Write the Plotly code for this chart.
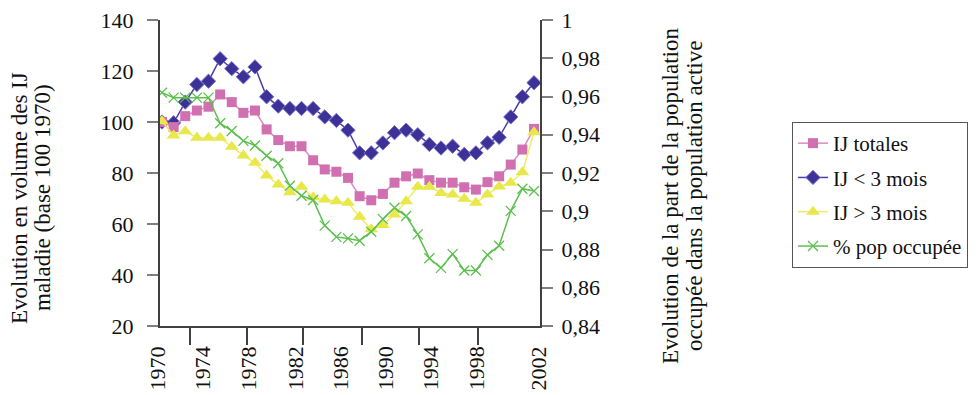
import plotly.graph_objects as go

# ---------------- data ----------------
years = list(range(1970, 2003))

ij_totales = [100, 98, 102.3, 104.5, 106, 110.8, 107.8, 103.6, 104.5, 97.1,
              92.9, 90.5, 90.5, 85.0, 81.4, 80.5, 78.1, 70.9, 69.3, 71.8,
              76.2, 78.7, 79.8, 77.2, 76.2, 76.2, 74.4, 73.5, 76.4, 78.7,
              83.3, 89.2, 97.3]

ij_moins_3 = [100, 99.7, 107.8, 114.7, 116, 124.8, 120.9, 117.7, 121.6, 109.9,
              106.2, 105.3, 105.3, 105.3, 102, 100.6, 96.8, 87.9, 87.9, 91.8,
              95.8, 96.8, 95.0, 91.2, 89.8, 90.5, 87.3, 87.9, 91.8, 94.0,
              102, 109.9, 115.4]

ij_plus_3 = [100.3, 94.7, 96.4, 93.8, 93.8, 93.8, 90.3, 86.9, 84.0, 79.0,
             75.5, 72.5, 74.6, 70.5, 69.6, 68.9, 68.3, 62.8, 57.9, 59.6,
             63.7, 68.9, 74.6, 74.6, 72.2, 71.6, 69.9, 68.3, 71.6, 74.7,
             76.2, 80.3, 96.0]

pop_occupee = [0.9620, 0.9594, 0.9594, 0.9594, 0.9594, 0.9460, 0.9420, 0.9368,
               0.9344, 0.9290, 0.9251, 0.9133, 0.9081, 0.9059, 0.8925, 0.8866,
               0.8858, 0.8846, 0.8893, 0.8959, 0.9018, 0.8975, 0.8879, 0.8754,
               0.8704, 0.8776, 0.8690, 0.8690, 0.8772, 0.8820, 0.9002, 0.9118,
               0.9106]

series_names = ["IJ totales", "IJ < 3 mois", "IJ > 3 mois", "% pop occupée"]

x_label_text = ["1970", "1974", "1978", "1982", "1986", "1990", "1994", "1998", "2002"]
x_label_pos = [1969.57, 1973.50, 1977.48, 1981.51, 1985.38, 1989.25, 1993.12, 1997.07, 2002.43]
x_tick_pos = [1972.41, 1977.34, 1982.15, 1987.18, 1992.13, 1997.16]

y_left_ticks = [20, 40, 60, 80, 100, 120, 140]
y_right_ticks = [0.84, 0.86, 0.88, 0.90, 0.92, 0.94, 0.96, 0.98, 1.0]
y_right_text = ["0,84", "0,86", "0,88", "0,9", "0,92", "0,94", "0,96", "0,98", "1"]

left_title_lines = ["Evolution en volume des IJ", "maladie (base 100 1970)"]
right_title_lines = ["Evolution de la part de la population", "occupée dans la population active"]

# ---------------- styling ----------------
FONT = "serif"
PINK = "#D070B0"
PINK_LINE = "#D88CC0"
NAVY = "#3B3196"
NAVY_LINE = "#4A3FA8"
YELLOW = "#E8E84A"
YELLOW_LINE = "#EEEE66"
GREEN = "#5CBF4E"
AXIS = "#404040"
TEXT = "#111111"

# plot area spans pixels 160..540 (x) and 20..326 (y)
PL, PR, PT, PB = 160.0, 540.0, 20.0, 326.0
PX_PER_YEAR = 11.625
FIRST_PX = 162.0


def px_to_year(p):
    return 1970 + (p - FIRST_PX) / PX_PER_YEAR


def year_to_px(yr):
    return FIRST_PX + (yr - 1970) * PX_PER_YEAR


def px_to_paper_x(p):
    return (p - PL) / (PR - PL)


def py_to_paper_y(p):
    return (PB - p) / (PB - PT)


def vtext(text, px, py, size):
    return dict(text=text, xref="paper", yref="paper", x=px_to_paper_x(px),
                y=py_to_paper_y(py), xanchor="center", yanchor="middle", textangle=-90,
                showarrow=False, font=dict(family=FONT, size=size, color=TEXT))


fig = go.Figure()

fig.add_trace(go.Scatter(
    x=years, y=ij_moins_3, name=series_names[1], mode="lines+markers",
    line=dict(color=NAVY_LINE, width=1.5),
    marker=dict(symbol="diamond", size=11, color=NAVY, line=dict(color="#7A70C8", width=1)),
    legendrank=2, legendgroup="b"))
fig.add_trace(go.Scatter(
    x=years, y=ij_totales, name=series_names[0], mode="lines+markers",
    line=dict(color=PINK_LINE, width=1.5),
    marker=dict(symbol="square", size=10, color=PINK),
    legendrank=1, legendgroup="a"))
fig.add_trace(go.Scatter(
    x=years, y=ij_plus_3, name=series_names[2], mode="lines+markers",
    line=dict(color=YELLOW_LINE, width=1.5),
    marker=dict(symbol="triangle-up", size=12, color=YELLOW),
    legendrank=3, legendgroup="c"))
fig.add_trace(go.Scatter(
    x=years, y=pop_occupee, name=series_names[3], mode="lines+markers", yaxis="y2",
    line=dict(color=GREEN, width=1.5),
    marker=dict(symbol="x-thin", size=10, color=GREEN, line=dict(color=GREEN, width=1.3)),
    legendrank=4, legendgroup="d"))

# x tick labels as rotated text below the axis
annotations = [vtext(t, year_to_px(p), 368.5, 22) for t, p in zip(x_label_text, x_label_pos)]
# axis titles, one annotation per line (tight line spacing as in the reference)
annotations += [
    vtext(left_title_lines[0], 20, 198, 23),
    vtext(left_title_lines[1], 43, 198, 23),
    vtext(right_title_lines[0], 670, 196, 23),
    vtext(right_title_lines[1], 694, 196, 23),
]

fig.update_layout(
    width=980, height=395,
    margin=dict(l=int(PL), r=int(980 - PR), t=int(PT), b=int(395 - PB), autoexpand=False),
    paper_bgcolor="white", plot_bgcolor="white",
    font=dict(family=FONT, size=22, color=TEXT),
    showlegend=True,
    legend=dict(
        x=px_to_paper_x(792), y=py_to_paper_y(122), xanchor="left", yanchor="top",
        bordercolor="#555555", borderwidth=1, bgcolor="white",
        font=dict(family=FONT, size=21, color=TEXT),
        tracegroupgap=4, traceorder="grouped",
    ),
    xaxis=dict(
        range=[px_to_year(PL), px_to_year(PR)],
        tickmode="array", tickvals=x_tick_pos, showticklabels=False,
        ticks="outside", ticklen=17, tickwidth=1.5, tickcolor=AXIS,
        showline=True, linecolor=AXIS, linewidth=2, showgrid=False, zeroline=False,
    ),
    yaxis=dict(
        range=[20, 140], tickmode="array", tickvals=y_left_ticks,
        ticks="outside", ticklen=11, tickcolor="#808080", tickwidth=1.5,
        ticklabelstandoff=9,
        showline=True, linecolor=AXIS, linewidth=2, showgrid=False, zeroline=False,
        tickfont=dict(family=FONT, size=22, color=TEXT),
    ),
    yaxis2=dict(
        range=[0.84, 1.0], overlaying="y", side="right", anchor="x",
        tickmode="array", tickvals=y_right_ticks, ticktext=y_right_text,
        ticks="outside", ticklen=11, tickcolor="#808080", tickwidth=1.5,
        ticklabelstandoff=4,
        showline=True, linecolor=AXIS, linewidth=2, showgrid=False, zeroline=False,
        tickfont=dict(family=FONT, size=22, color=TEXT),
    ),
    annotations=annotations,
)

fig.write_html("out.html",
               config={"displayModeBar": False},
               post_script="document.body.style.margin='0';document.body.style.overflow='hidden';")
